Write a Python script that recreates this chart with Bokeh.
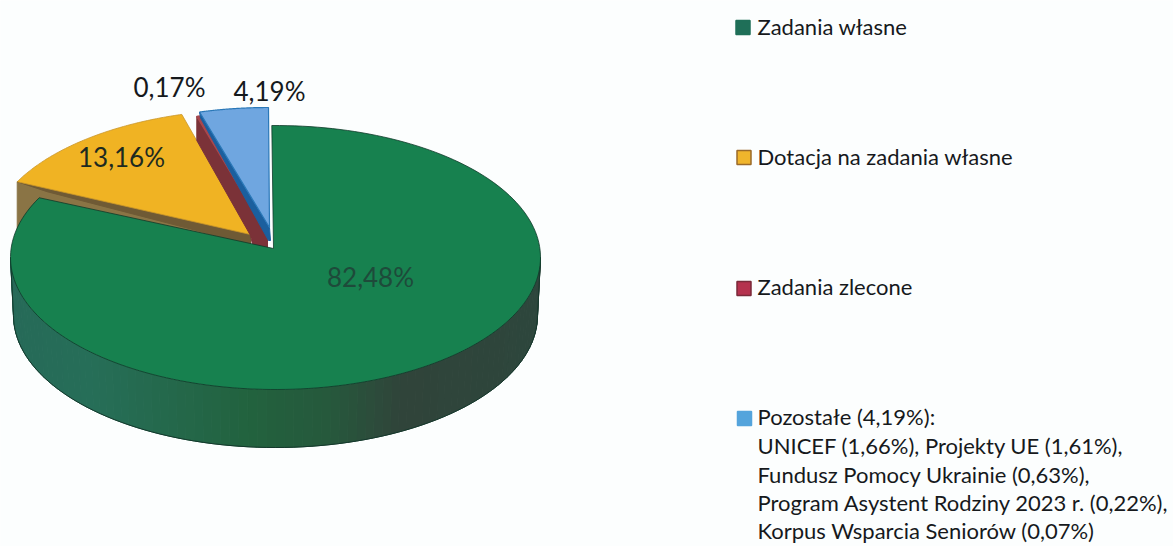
import math
from bokeh.plotting import figure
from bokeh.embed import file_html
from bokeh.resources import INLINE
from bokeh.core.properties import value

# ---- data ----
slice_names = ["Zadania własne", "Dotacja na zadania własne", "Zadania zlecone", "Pozostałe"]
slice_values = [82.48, 13.16, 0.17, 4.19]
slice_labels = ["82,48%", "13,16%", "0,17%", "4,19%"]
legend_lines = [
    "Zadania własne",
    "Dotacja na zadania własne",
    "Zadania zlecone",
    "Pozostałe (4,19%):",
    "UNICEF (1,66%), Projekty UE (1,61%),",
    "Fundusz Pomocy Ukrainie (0,63%),",
    "Program Asystent Rodziny 2023 r. (0,22%),",
    "Korpus Wsparcia Seniorów (0,07%)",
]

# ---- layout / style ----
BG = "#fcfefe"
FONT = "Lato"
TOP = ["#17814f", "#f0b323", "#a8474d", "#6fa6e0"]
A, B = 265, 132
CX, CY = 275, 257
DEPTH = 58
APEX = [(273, 248), (250, 234), (267, 233), (269, 227)]
CENTERS = [(275, 257), (253, 241), (268, 243), (268, 239)]
LEG_Y = [26, 156, 286, 416, 445, 474, 502, 530]
SWATCH = [("#1f6f58", "#1f6f58", 742.5, 27), ("#f0b52c", "#9a6a2a", 743.5, 157),
          ("#b5324e", "#7a2a3a", 743.5, 288), ("#54a4dc", "#54a4dc", 744, 418)]
LABEL_POS = [(370, 276, "#1e4a3a"), (121, 156, "#1d2a20"), (169, 86, "#15191c"), (269, 90, "#15191c")]
WALL_STOPS = [(10, (38, 106, 88)), (90, (38, 110, 88)), (250, (34, 98, 62)),
              (330, (38, 88, 60)), (400, (48, 68, 58)), (540, (45, 70, 60))]


def pt(deg, cx=CX, cy=CY, a=A, b=B):
    r = math.radians(deg)
    return cx + a * math.sin(r), cy - b * math.cos(r)


def arc(d0, d1, cx, cy, n=90):
    return [pt(d0 + (d1 - d0) * i / n, cx, cy) for i in range(n + 1)]


def wall_color(x):
    for (x0, c0), (x1, c1) in zip(WALL_STOPS, WALL_STOPS[1:]):
        if x <= x1:
            t = max(0, (x - x0) / (x1 - x0))
            return "#%02x%02x%02x" % tuple(round(u + (v - u) * t) for u, v in zip(c0, c1))
    return "#%02x%02x%02x" % WALL_STOPS[-1][1]


p = figure(width=1173, height=546, x_range=(0, 1173), y_range=(546, 0),
           toolbar_location=None, output_backend="svg", min_border=0,
           background_fill_color=BG, border_fill_color=BG,
           outline_line_color=None)
p.axis.visible = False
p.grid.visible = False


def poly(points, fill, line=None, width=1.0):
    p.patch([q[0] for q in points], [q[1] for q in points], fill_color=fill,
            line_color=line if line else fill, line_width=width)


# slice angles from the values
angles = []
acc = 0.0
for v in slice_values:
    angles.append((acc, acc + v * 3.6))
    acc += v * 3.6

# --- orange slice with its walls ---
a0, a1 = angles[1]
cx, cy = CENTERS[1]
ax, ay = APEX[1]
corner = pt(a0, cx, cy)
poly([corner, (corner[0], corner[1] + DEPTH), (ax, ay + DEPTH), (ax, ay)], "#8a7445")
poly([corner, (corner[0] + 30, corner[1] + 10), (ax, ay + 10), (ax, ay)], "#6f5a35")
poly([(ax, ay)] + arc(a0, a1, cx, cy), TOP[1], "#c9962a", 0.8)

# --- dark red slice with wall ---
a0, a1 = angles[2]
cx, cy = CENTERS[2]
ax, ay = APEX[2]
c0, c1 = pt(a0, cx, cy), pt(a1, cx, cy)
poly([c0, (c0[0], c0[1] + 24), (ax - 17, ay + 2), (ax - 15, ay + 11), (ax, ay + 15), (ax, ay)], "#7b3238")
poly([(ax, ay), c0, c1], TOP[2], "#a8474d", 1.5)

# --- blue slice with wall ---
a0, a1 = angles[3]
cx, cy = CENTERS[3]
ax, ay = APEX[3]
c0 = pt(a0, cx, cy)
poly([c0, (c0[0] + 1, c0[1] + 6), (ax - 1, ay + 13), (ax + 1, ay + 13), (ax, ay)], "#1b5f9e")
poly([(ax, ay)] + arc(a0, a1, cx, cy), TOP[3], "#2a78b8", 1.2)

# --- green wall ---
step = 2
for d in range(90, 270, step):
    t0, t1 = pt(d), pt(d + step)
    b0, b1 = pt(d, CX, CY + DEPTH, A - 3), pt(d + step, CX, CY + DEPTH, A - 3)
    poly([t0, t1, b1, b0], wall_color((t0[0] + t1[0]) / 2))
outline = [pt(d, CX, CY + DEPTH, A - 3) for d in range(90, 271, 2)]
p.line([q[0] for q in outline], [q[1] for q in outline], line_color="#14382c", line_width=1)
p.line([pt(90)[0], outline[0][0]], [pt(90)[1], outline[0][1]], line_color="#14382c", line_width=1)
p.line([pt(270)[0], outline[-1][0]], [pt(270)[1], outline[-1][1]], line_color="#14382c", line_width=1)

# --- green top ---
a0, a1 = angles[0]
poly([APEX[0]] + arc(a0 - 0.8, a1, CX, CY, 180), TOP[0], "#0f3a2a", 0.8)

# --- slice labels ---
for s, (x, y, col) in zip(slice_labels, LABEL_POS):
    p.text([x], [y], text=[s], text_font=value(FONT), text_font_size="26px",
           text_align="center", text_baseline="middle", text_color=col)

# --- legend ---
for fill, line, x, y in SWATCH:
    p.scatter([x], [y], marker="square", size=14, fill_color=fill, line_color=line, line_width=1.5)
for s, y in zip(legend_lines, LEG_Y):
    p.text([757], [y], text=[s], text_font=value(FONT), text_font_size="22px",
           text_align="left", text_baseline="middle", text_color="#16191c")

open("out.html", "w").write(file_html(p, INLINE))
